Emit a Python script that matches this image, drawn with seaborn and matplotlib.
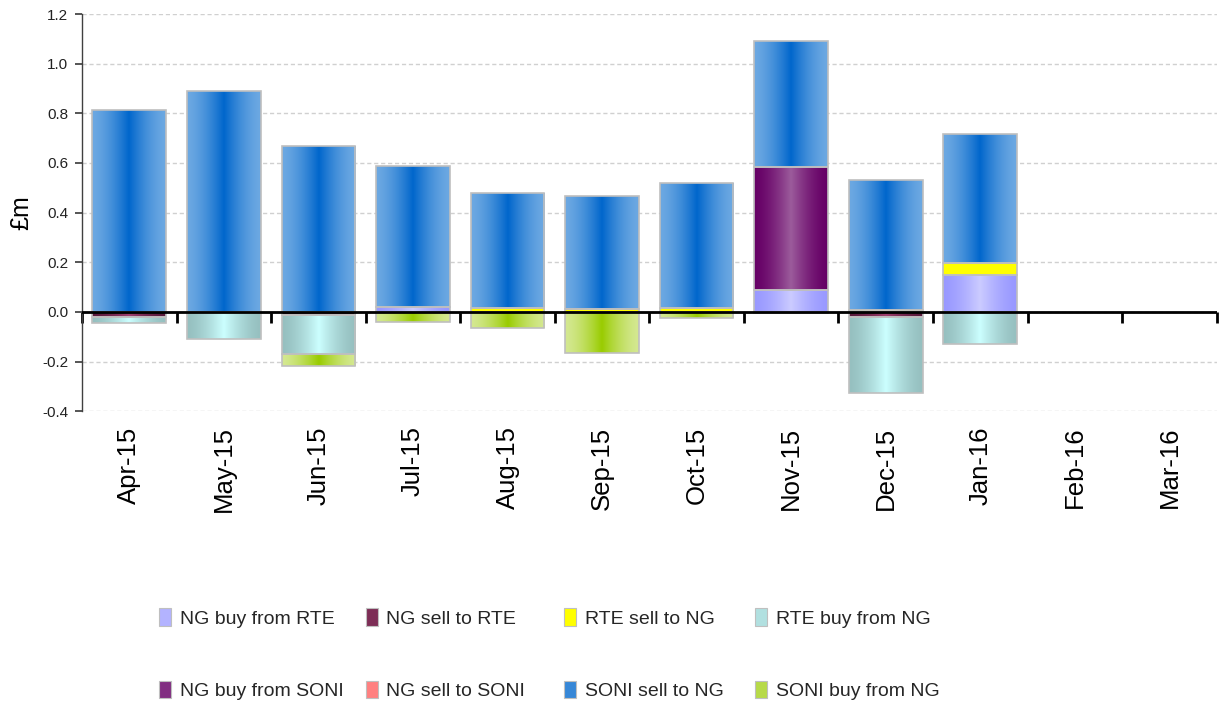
import numpy as np
import pandas as pd
import matplotlib
matplotlib.use("Agg")
import matplotlib.pyplot as plt
import matplotlib.colors as mcolors
from matplotlib.patches import Patch
import seaborn as sns

months = ['Apr-15', 'May-15', 'Jun-15', 'Jul-15', 'Aug-15', 'Sep-15',
          'Oct-15', 'Nov-15', 'Dec-15', 'Jan-16', 'Feb-16', 'Mar-16']

ng_buy_rte = [0, 0, 0, 0.018, 0, 0, 0, 0.088, 0, 0.149, 0, 0]
ng_sell_rte = [-0.022, 0, -0.014, 0, 0, 0, 0, 0, -0.019, 0, 0, 0]
rte_sell_ng = [0, 0, 0, 0, 0.017, 0.012, 0.014, 0, 0.006, 0.047, 0, 0]
rte_buy_ng = [-0.022, -0.110, -0.154, 0, 0, 0, 0, 0, -0.308, -0.130, 0, 0]
ng_buy_soni = [0, 0, 0, 0, 0, 0, 0, 0.495, 0, 0, 0, 0]
ng_sell_soni = [0, 0, 0, 0, 0, 0, 0, 0, 0, 0, 0, 0]
soni_sell_ng = [0.812, 0.889, 0.668, 0.570, 0.463, 0.455, 0.505, 0.507, 0.525, 0.520, 0, 0]
soni_buy_ng = [0, 0, -0.049, -0.040, -0.063, -0.165, -0.023, -0.006, 0, 0, 0, 0]

series_names = ['NG buy from RTE', 'NG sell to RTE', 'RTE sell to NG', 'RTE buy from NG',
                'NG buy from SONI', 'NG sell to SONI', 'SONI sell to NG', 'SONI buy from NG']
series_values = [ng_buy_rte, ng_sell_rte, rte_sell_ng, rte_buy_ng,
                 ng_buy_soni, ng_sell_soni, soni_sell_ng, soni_buy_ng]
# (edge colour, centre colour) for the horizontal gradient
series_colors = [('#9999FF', '#CCCCFF'),
                 ('#5A1A3C', '#A04070'),
                 ('#FFFF00', '#FFFF00'),
                 ('#96C0C0', '#CCFFFF'),
                 ('#660066', '#9C5C9C'),
                 ('#FF8080', '#FF8080'),
                 ('#6CA8E2', '#0066CC'),
                 ('#D4E890', '#99CC00')]

df = pd.DataFrame(dict(zip(series_names, series_values)), index=months)

sns.set_theme(style="white")
plt.rcParams['font.family'] = ['Liberation Sans', 'DejaVu Sans']

fig = plt.figure(figsize=(12.24, 7.04), dpi=100)
ax = fig.add_axes([0.067, 0.416, 0.927, 0.564])

x = np.arange(len(months))
width = 0.78
pos_bottom = np.zeros(len(months))
neg_bottom = np.zeros(len(months))

u = np.linspace(0, 1, 96)
t = (1 - np.abs(2 * u - 1)) ** 1.5

handles = []
for name, (edge_c, centre_c) in zip(series_names, series_colors):
    vals = df[name].to_numpy(dtype=float)
    bottoms = np.where(vals >= 0, pos_bottom, neg_bottom)
    bars = ax.bar(x, vals, width=width, bottom=bottoms, color=centre_c,
                  edgecolor='#BFBFBF', linewidth=1.2, zorder=3)
    e = np.array(mcolors.to_rgb(edge_c))
    c = np.array(mcolors.to_rgb(centre_c))
    grad = (e[None, :] + (c - e)[None, :] * t[:, None])[None, :, :]
    for p, v in zip(bars.patches, vals):
        if v == 0:
            p.set_visible(False)
            continue
        x0, y0 = p.get_x(), p.get_y()
        w, h = p.get_width(), p.get_height()
        im = ax.imshow(grad, extent=[x0, x0 + w, min(y0, y0 + h), max(y0, y0 + h)],
                       aspect='auto', zorder=3.5, interpolation='bilinear')
        im.set_clip_path(p)
        p.set_facecolor('none')
        p.set_zorder(4)
    pos_bottom = pos_bottom + np.where(vals >= 0, vals, 0)
    neg_bottom = neg_bottom + np.where(vals < 0, vals, 0)
    handles.append(Patch(facecolor=tuple((e + c) / 2), edgecolor='#BFBFBF',
                         linewidth=0.8, label=name))

ax.set_xlim(-0.5, len(months) - 0.5)
ax.set_ylim(-0.4, 1.2)
yt = np.round(np.arange(-0.4, 1.21, 0.2), 1)
ax.set_yticks(yt)
ax.set_yticklabels([f'{v:.1f}' for v in yt], fontsize=11, color='#222222')
ax.yaxis.grid(True, linestyle=(0, (3, 2)), color='#D0D0D0', linewidth=1.0, zorder=0)
ax.xaxis.grid(False)
ax.set_ylabel('£m', fontsize=18, labelpad=6, color='black')
ax.tick_params(axis='y', direction='out', length=5, color='#404040', left=True, pad=5)

for side in ['top', 'right', 'bottom']:
    ax.spines[side].set_visible(False)
ax.spines['left'].set_color('#404040')
ax.spines['left'].set_linewidth(1.0)

ax.set_xticks(x)
ax.set_xticklabels(months, rotation=90, fontsize=18.5, color='black')
ax.tick_params(axis='x', length=0, pad=11)

# zero axis line with category-boundary tick marks
ax.axhline(0, color='black', linewidth=2, zorder=6)
zero_frac = (0 - (-0.4)) / (1.2 - (-0.4))
sec = ax.secondary_xaxis(zero_frac)
sec.set_xticks(np.arange(-0.5, len(months), 1.0))
sec.set_xticklabels([])
sec.tick_params(axis='x', direction='out', length=8, width=2, color='black')
sec.spines['bottom'].set_visible(False)

# legend: 2 rows x 4 equally spaced columns (Excel style)
col_x = [0.130, 0.299, 0.461, 0.617]
for col in range(4):
    idx = [col, col + 4]
    fig.legend([handles[i] for i in idx], [series_names[i] for i in idx],
               loc='upper left', bbox_to_anchor=(col_x[col], 0.136),
               bbox_transform=fig.transFigure, ncol=1, frameon=False,
               fontsize=14, handlelength=0.6, handleheight=1.0,
               handletextpad=0.45, labelspacing=2.75, borderaxespad=0,
               borderpad=0)

fig.savefig('out.png', dpi=100)
